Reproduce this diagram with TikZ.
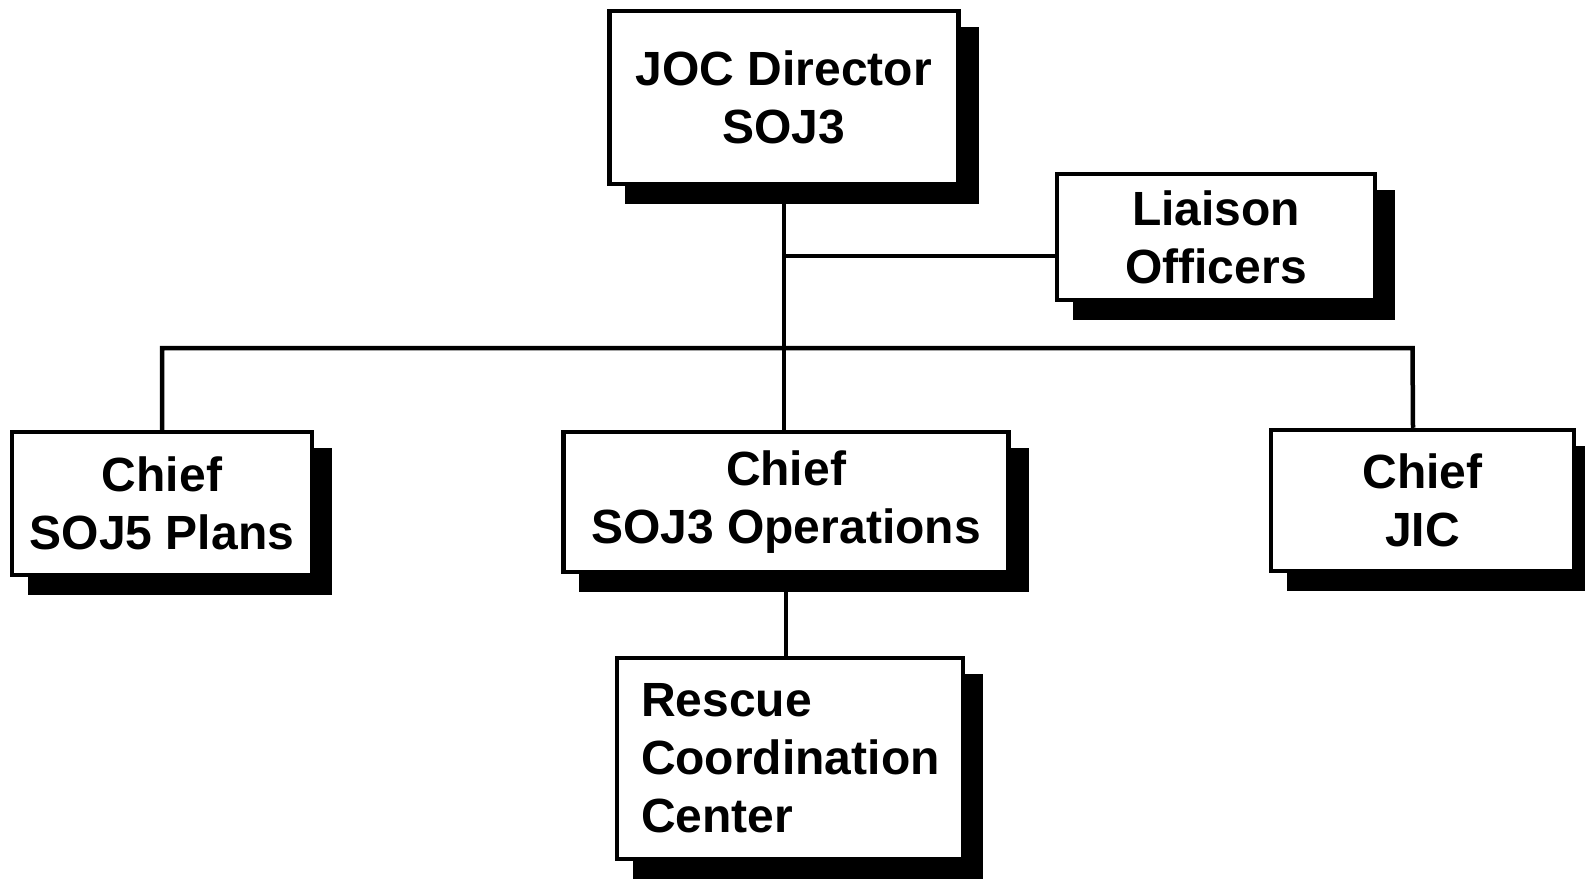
\documentclass[tikz,border=0pt]{standalone}
\usepackage{fontspec}
\setmainfont{Liberation Sans}
\usetikzlibrary{shadows}
\tikzset{
  orgbox/.style={draw=black, line width=4.5pt, fill=white, inner sep=0pt, align=center,
    font=\fontsize{48}{58}\selectfont\bfseries,
    drop shadow={shadow xshift=18pt, shadow yshift=-18pt, fill=black, draw=black, line width=4.5pt, opacity=1}},
  link/.style={draw=black, line width=4.5pt}
}
\begin{document}
\begin{tikzpicture}[x=1pt,y=-1pt]
\useasboundingbox (0,0) rectangle (1585,881);
\fill[white] (0,0) rectangle (1585,881);
% boxes
\node[orgbox, minimum width=349pt, minimum height=173pt] (joc) at (784,97.5) {JOC Director\\SOJ3};
\node[orgbox, minimum width=318pt, minimum height=126pt] (liaison) at (1216,237) {Liaison\\Officers};
\node[orgbox, minimum width=300pt, minimum height=143pt] (soj5) at (162,503.5) {Chief\\SOJ5 Plans};
\node[orgbox, minimum width=445pt, minimum height=140pt] (ops) at (786,502) {Chief\\SOJ3 Operations};
\node[orgbox, minimum width=303pt, minimum height=141pt] (jic) at (1422.5,500.5) {Chief\\JIC};
\node[orgbox, minimum width=346pt, minimum height=201pt, align=left, text width=298pt, inner xsep=24pt] (rcc) at (790,758.5) {Rescue\\Coordination\\Center};
% connectors
\coordinate (lj) at (784,256);
\coordinate (jicdrop) at ([xshift=-9.5pt]jic.north);
\coordinate (busR) at (1412.5,348);
\draw[link] (joc.south) -- (joc.south |- ops.north);
\draw[link] (lj) -- (lj -| liaison.west);
\draw[link] (soj5.north) |- (busR) -- (jicdrop);
\draw[link] (ops.south) -- (ops.south |- rcc.north);
\end{tikzpicture}
\end{document}
